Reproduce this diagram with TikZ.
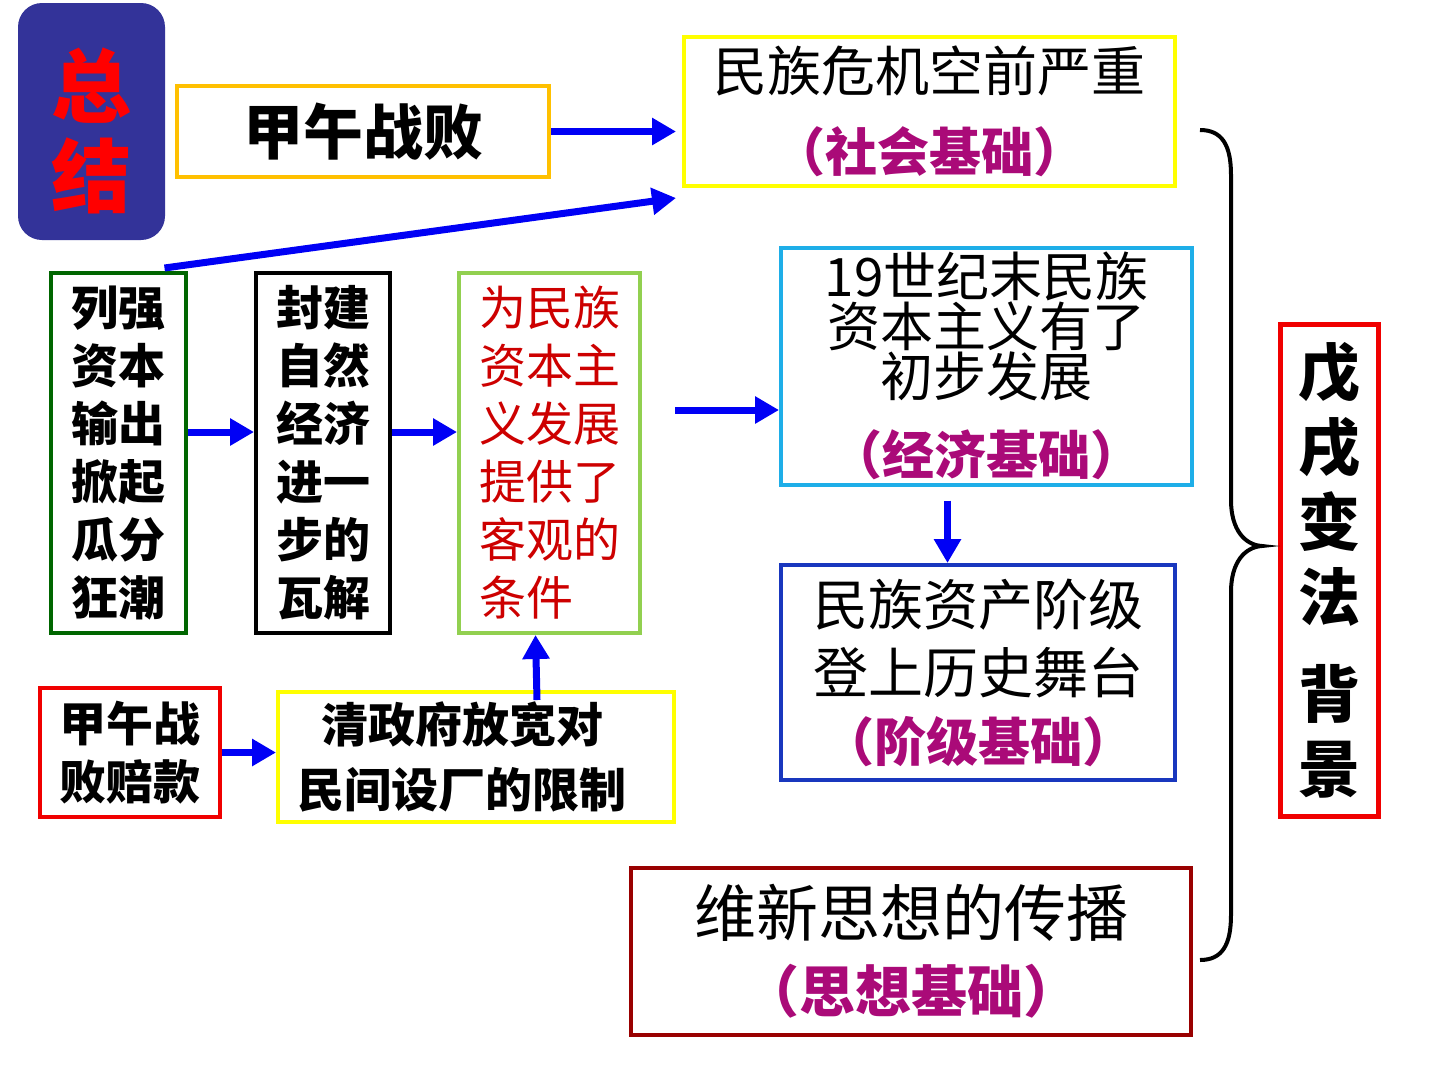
\documentclass[tikz,border=0pt]{standalone}
\usepackage{fontspec}
\setmainfont{Noto Sans CJK SC}
\usepackage{tikz}
\usetikzlibrary{arrows.meta, positioning, calc}

\definecolor{sumblue}{RGB}{51,51,153}
\definecolor{gold}{RGB}{255,192,0}
\definecolor{lemon}{RGB}{255,255,0}
\definecolor{sky}{RGB}{30,174,232}
\definecolor{royal}{RGB}{25,55,190}
\definecolor{maroon}{RGB}{153,0,0}
\definecolor{leaf}{RGB}{0,102,0}
\definecolor{lime}{RGB}{146,208,80}
\definecolor{redline}{RGB}{240,0,0}
\definecolor{arrblue}{RGB}{0,0,245}
\definecolor{basis}{RGB}{170,10,120}
\definecolor{condred}{RGB}{205,0,0}

\begin{document}
\begin{tikzpicture}[x=1pt, y=-1pt,
  box/.style={draw, line width=4pt, inner sep=0pt, align=center},
  arr/.style={draw=arrblue, line width=7pt, -{Triangle[length=24pt,width=26pt]}},
  big/.style={font=\bfseries\fontsize{47}{58}\selectfont}
]
  \fill[white] (0,0) rectangle (1440,1080);
  \useasboundingbox (0,0) rectangle (1440,1080);

  \node[box, draw=none, fill=sumblue, rounded corners=24pt, minimum width=147pt, minimum height=237pt,
    text=red, font=\bfseries\fontsize{80}{90}\selectfont] (summary) at (91.5,121.5) {\rule{0pt}{88pt}总\\结};
  \node[box, draw=gold, minimum width=372pt, minimum height=91pt,
    font=\bfseries\fontsize{60}{60}\selectfont] (jiawu) at (363,131.5) {甲午战败};

  \node[box, draw=lemon, minimum width=491pt, minimum height=149pt,
    font=\fontsize{54}{80}\selectfont] (crisis) at (929.5,111.5)
    {民族危机空前严重\\{\bfseries\fontsize{52}{80}\selectfont\textcolor{basis}{（社会基础）}}};
  \node[box, draw=sky, minimum width=411pt, minimum height=237pt,
    font=\fontsize{53}{43}\selectfont] (econ) at (986.5,366)
    {19世纪末民族\\资本主义有了\\初步发展\\[28pt]{\bfseries\fontsize{52}{43}\selectfont\textcolor{basis}{（经济基础）}}};
  \node[box, draw=royal, minimum width=394pt, minimum height=215pt,
    font=\fontsize{55}{68}\selectfont] (cls) at (978,672.5)
    {民族资产阶级\\登上历史舞台\\{\bfseries\fontsize{52}{66}\selectfont\textcolor{basis}{（阶级基础）}}};
  \node[box, draw=maroon, minimum width=560pt, minimum height=167pt,
    font=\fontsize{62}{76}\selectfont] (idea) at (911,951.5)
    {维新思想的传播\\{\bfseries\fontsize{56}{76}\selectfont\textcolor{basis}{（思想基础）}}};
  \node[box, draw=redline, line width=5pt, minimum width=98pt, minimum height=492pt,
    font=\bfseries\fontsize{62}{75}\selectfont] (reform) at (1329.5,570.5)
    {戊\\戌\\变\\法\\[22pt]背\\景};

  \node[box, draw=leaf, minimum width=135pt, minimum height=360pt, big] (lieqiang) at (118.5,453)
    {列强\\资本\\输出\\掀起\\瓜分\\狂潮};
  \node[box, minimum width=134pt, minimum height=360pt, big] (fengjian) at (323,453)
    {封建\\自然\\经济\\进一\\步的\\瓦解};
  \node[box, draw=lime, minimum width=181pt, minimum height=360pt, align=left, text=condred,
    font=\fontsize{47}{58}\selectfont] (cond) at (549.5,453)
    {为民族\\资本主\\义发展\\提供了\\客观的\\条件};
  \node[box, draw=redline, minimum width=180pt, minimum height=129pt, big] (indemnity) at (130,752.5)
    {甲午战\\败赔款};
  \node[box, draw=lemon, minimum width=396pt, minimum height=130pt,
    font=\bfseries\fontsize{47}{65}\selectfont] (policy) at (476,757)
    {清政府放宽对\hspace*{28pt}\\民间设厂的限制\hspace*{28pt}};

  \draw[arr] (jiawu.east) -- ([xshift=-6pt]crisis.west |- jiawu.east);
  \draw[arr] ([xshift=46pt,yshift=3pt]lieqiang.north) -- ([xshift=-6pt,yshift=-10pt]crisis.south west);
  \draw[arr] ([yshift=21pt]lieqiang.east) -- ([yshift=21pt]fengjian.west);
  \draw[arr] ([yshift=21pt]fengjian.east) -- ([yshift=21pt]cond.west);
  \coordinate (econin) at ([xshift=33pt,yshift=43pt]cond.east);
  \draw[arr] (econin) -- (econin -| econ.west);
  \coordinate (clsin) at ([xshift=-39pt,yshift=-14pt]econ.south);
  \draw[arr] (clsin) -- (clsin |- cls.north);
  \draw[arr] (indemnity.east) -- (policy.west |- indemnity.east);
  \draw[arr] ([xshift=61pt,yshift=-10pt]policy.north) -- ([xshift=-14pt]cond.south);

  \draw[line width=4pt] (1200,130) .. controls (1222,130) and (1231,145) .. (1231,175) -- (1231,500)
    .. controls (1231,530) and (1245,545) .. (1262,546)
    .. controls (1245,547) and (1231,562) .. (1231,592) -- (1231,915)
    .. controls (1231,945) and (1222,960) .. (1200,960);
\end{tikzpicture}
\end{document}
